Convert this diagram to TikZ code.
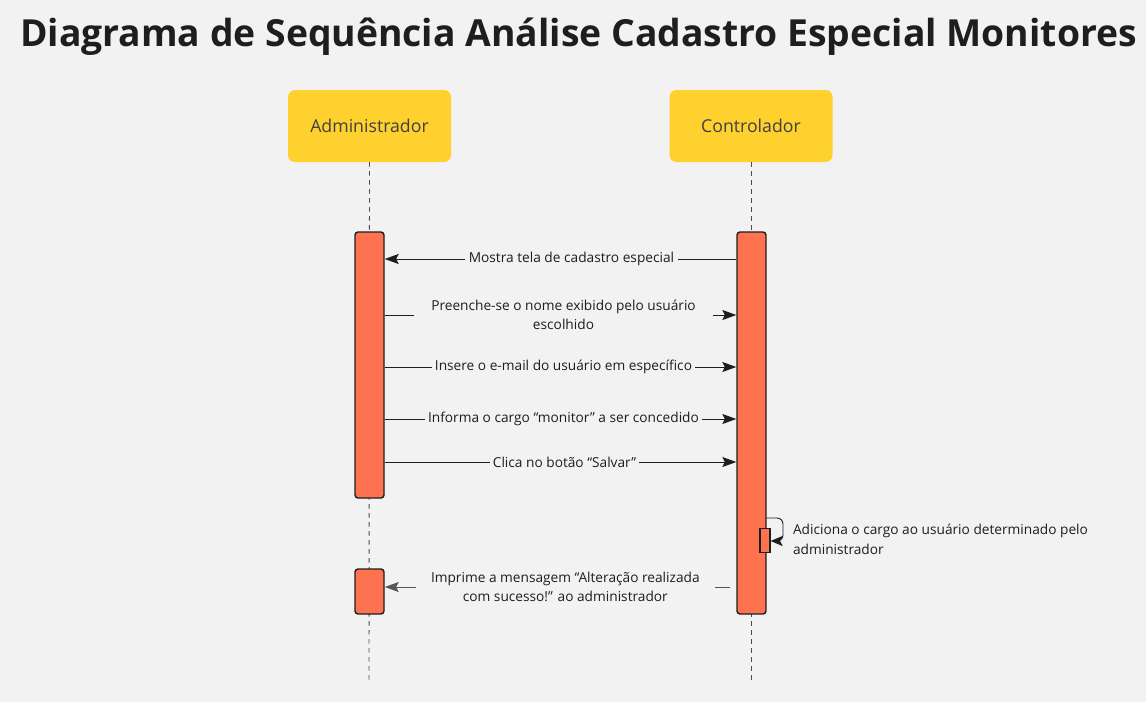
\documentclass[tikz,border=0pt]{standalone}
\usepackage{fontspec}
\setmainfont{Open Sans}
\usetikzlibrary{arrows.meta, positioning, calc}
\definecolor{bgcol}{HTML}{F2F2F2}
\definecolor{actorcol}{HTML}{FFD12F}
\definecolor{barcol}{HTML}{FF724F}
\definecolor{inkcol}{HTML}{1E1E1E}

\begin{document}
\begin{tikzpicture}[
    x=1pt, y=-1pt,
    actor/.style={fill=actorcol, rounded corners=7pt, minimum width=163pt, minimum height=72pt,
        text=inkcol!85, font=\fontsize{17.7}{20}\selectfont},
    lifeline/.style={dash pattern=on 4.5pt off 4.5pt, line width=0.9pt, draw=inkcol!80},
    bar/.style={fill=barcol, draw=inkcol, line width=1.4pt, rounded corners=3pt, minimum width=29pt, inner sep=0pt},
    msg/.style={line width=1pt, draw=inkcol, -{Stealth[length=14pt, width=10pt, inset=2.5pt]}},
    lbl/.style={fill=bgcol, text=inkcol, font=\fontsize{13.7}{19.5}\selectfont, align=center, inner ysep=1pt}
]
   \fill[bgcol] (0,0) rectangle (1146,702);
   \useasboundingbox (0,0) rectangle (1146,702);

   % Title
   \node[text=inkcol, anchor=base, font=\bfseries\fontsize{37.3}{40}\selectfont] (title) at (578.5,46) {Diagrama de Sequência Análise Cadastro Especial Monitores};

   % Actors
   \node[actor] (adm) at (369.5,126) {Administrador};
   \node[actor] (ctl) at (751,126) {Controlador};

   % Lifelines
   \coordinate (admEnd) at (369,680);
   \coordinate (ctlEnd) at (751,680);
   \draw[lifeline] (adm.south) -- (admEnd);
   \draw[lifeline] (ctl.south) -- (ctlEnd);

   % Activation bars
   \node[bar, minimum height=266pt] (admBar) at (369.5,365) {};
   \node[bar, minimum height=45pt] (admBarB) at (369.5,591.5) {};
   \node[bar, minimum height=382pt] (ctlBar) at (751.5,423) {};
   \node[bar, rounded corners=0pt, minimum width=10pt, minimum height=24pt, line width=1.2pt] (selfBox) at (765,540.5) {};

   % Message rows
   \coordinate (m1) at (0,259);
   \coordinate (m2) at (0,315);
   \coordinate (m3) at (0,367);
   \coordinate (m4) at (0,419);
   \coordinate (m5) at (0,462);
   \coordinate (m7) at (0,587);

   % Messages
   \draw[msg] (ctlBar.west |- m1) -- (admBar.east |- m1)
       node[lbl, midway, xshift=11pt] {Mostra tela de cadastro especial};
   \draw[msg] (admBar.east |- m2) -- (ctlBar.west |- m2)
       node[lbl, midway, xshift=3pt, inner xsep=17pt] {Preenche-se o nome exibido pelo usuário\\escolhido};
   \draw[msg] (admBar.east |- m3) -- (ctlBar.west |- m3)
       node[lbl, midway, xshift=3pt] {Insere o e-mail do usuário em específico};
   \draw[msg] (admBar.east |- m4) -- (ctlBar.west |- m4)
       node[lbl, midway, xshift=3pt] {Informa o cargo “monitor” a ser concedido};
   \draw[msg] (admBar.east |- m5) -- (ctlBar.west |- m5)
       node[lbl, midway, xshift=4pt] {Clica no botão “Salvar”};

   % Self message
   \coordinate (selfStart) at (766,518);
   \draw[line width=0.9pt, draw=inkcol, rounded corners=6pt, -{Stealth[length=12pt, width=10pt, inset=2.5pt]}]
       (selfStart) -- (783,518) -- (783,541) -- (selfBox.east |- 0,541);
   \node[text=inkcol, font=\fontsize{13.7}{19.5}\selectfont, align=left, anchor=west] (selfLbl) at (789.5,539.5)
       {Adiciona o cargo ao usuário determinado pelo\\administrador};

   % Reply
   \coordinate (m7s) at (730,587);
   \draw[msg, draw=inkcol!75] (m7s) -- (admBarB.east |- m7)
       node[lbl, midway, xshift=8pt, inner xsep=15pt] {Imprime a mensagem “Alteração realizada\\com sucesso!” ao administrador};
\end{tikzpicture}
\end{document}
